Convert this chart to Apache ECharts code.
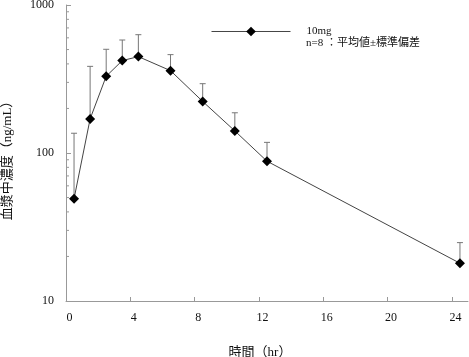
<!DOCTYPE html>
<html>
<head>
<meta charset="utf-8">
<script src="https://cdn.jsdelivr.net/npm/echarts@6/dist/echarts.min.js"></script>
<style>html,body{margin:0;padding:0;background:#fff;}#c{width:469px;height:357px;}</style>
</head>
<body>
<div id="c"></div>
<script>
// Data
var timesHr = [0.5, 1.5, 2.5, 3.5, 4.5, 6.5, 8.5, 10.5, 12.5, 24.5];
var meanConc = [49, 170, 330, 421, 448, 360, 223, 141, 88, 18];
var upperSD = [136, 385, 502, 580, 630, 462, 294, 187, 118, 24.8];
var xTicks = [0, 4, 8, 12, 16, 20, 24];
var yTicks = [10, 100, 1000];
var yMinorTicks = [20, 30, 40, 50, 60, 70, 80, 90, 200, 300, 400, 500, 600, 700, 800, 900];
var seriesName = '10mg';
var noteText = 'n=8 ：平均値±標準偏差';
var xTitle = '時間（hr）';
var yTitle = '血漿中濃度（ng/mL）';

var serif = '"Liberation Serif", "Noto Sans CJK JP", serif';
var lineData = timesHr.map(function (t, i) { return [t, meanConc[i]]; });
var errData = timesHr.map(function (t, i) { return [t, meanConc[i], upperSD[i]]; });
var minorData = yMinorTicks.map(function (v) { return [0, v]; });

var chart = echarts.init(document.getElementById('c'), null, {renderer: 'canvas'});
chart.setOption({
  animation: false,
  backgroundColor: '#fff',
  title: {
    text: noteText, left: 306, top: 38, padding: 0,
    textStyle: {fontFamily: serif, fontSize: 11, fontWeight: 'normal', color: '#111'}
  },
  legend: {
    data: [seriesName], left: 211, top: 26, padding: 0, itemWidth: 79, itemHeight: 12, itemGap: 0,
    lineStyle: {width: 1, color: '#444'},
    formatter: function (n) { return '{a|' + n + '}'; },
    textStyle: {fontFamily: serif, fontSize: 11, color: '#111',
      rich: {a: {fontFamily: serif, fontSize: 11, color: '#111', padding: [0, 0, 0, 11]}}}
  },
  grid: {left: 66, right: 1, top: 5, bottom: 56, containLabel: false, outerBoundsMode: 'none'},
  xAxis: {
    type: 'value', min: 0, max: 25, interval: 4,
    name: xTitle, nameLocation: 'middle', nameGap: 45,
    nameTextStyle: {fontFamily: serif, fontSize: 13, color: '#111', padding: [0, 14, 0, 0]},
    axisLine: {lineStyle: {color: '#999', width: 1}},
    axisTick: {inside: true, length: 4, lineStyle: {color: '#999'}},
    axisLabel: {fontFamily: serif, fontSize: 12, color: '#111', margin: 11, showMaxLabel: false,
      padding: [0, 0, 0, 7],
      formatter: function (v) { return xTicks.indexOf(v) >= 0 ? String(v) : ''; }},
    splitLine: {show: false}
  },
  yAxis: {
    type: 'log', logBase: 10, min: 10, max: 1000,
    name: yTitle, nameLocation: 'middle', nameGap: 52,
    nameTextStyle: {fontFamily: serif, fontSize: 13, color: '#111', padding: [0, 9, 0, 0]},
    axisLine: {show: true, lineStyle: {color: '#999', width: 1}},
    axisTick: {show: true, inside: true, length: 5, lineStyle: {color: '#999'}},
    axisLabel: {fontFamily: serif, fontSize: 12, color: '#111', margin: 12,
      formatter: function (v) { return yTicks.indexOf(Math.round(v)) >= 0 ? String(Math.round(v)) : ''; }},
    splitLine: {show: false}
  },
  series: [
    {
      name: 'minor', type: 'custom', data: minorData, silent: true, z: 1,
      renderItem: function (params, api) {
        var p = api.coord([api.value(0), api.value(1)]);
        return {type: 'line', shape: {x1: p[0], y1: p[1], x2: p[0] + 3, y2: p[1]},
          style: {stroke: '#999', lineWidth: 1}};
      }
    },
    {
      name: 'err', type: 'custom', data: errData, silent: true, z: 2,
      renderItem: function (params, api) {
        var lo = api.coord([api.value(0), api.value(1)]);
        var hi = api.coord([api.value(0), api.value(2)]);
        return {type: 'group', children: [
          {type: 'line', shape: {x1: lo[0], y1: lo[1], x2: hi[0], y2: hi[1]}, style: {stroke: '#777', lineWidth: 1}},
          {type: 'line', shape: {x1: hi[0] - 3, y1: hi[1], x2: hi[0] + 3, y2: hi[1]}, style: {stroke: '#777', lineWidth: 1}}
        ]};
      }
    },
    {
      name: seriesName, type: 'line', data: lineData, z: 3,
      symbol: 'diamond', symbolSize: 10,
      lineStyle: {color: '#444', width: 1},
      itemStyle: {color: '#000', borderWidth: 0}
    }
  ]
});
</script>
</body>
</html>
